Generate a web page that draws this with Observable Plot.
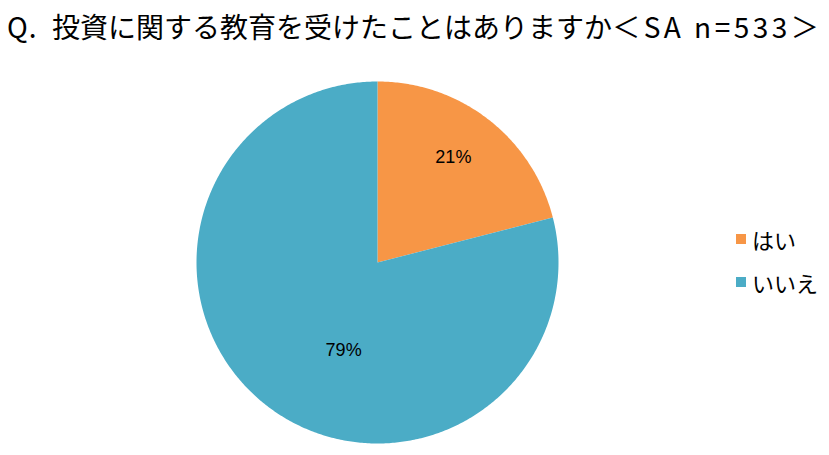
<!DOCTYPE html>
<html>
<head>
<meta charset="utf-8">
<script src="https://cdn.jsdelivr.net/npm/d3@7"></script>
<script src="https://cdn.jsdelivr.net/npm/@observablehq/plot@0.6"></script>
<style>
  html, body { margin: 0; padding: 0; background: #fff; }
  #wrap { position: relative; width: 829px; height: 455px; overflow: hidden; }
  #title {
    position: absolute; left: 7px; top: 8px; white-space: nowrap;
    font-family: "Noto Sans CJK JP", sans-serif; font-size: 28px; line-height: 36px; color: #000;
  }
  #title .q { letter-spacing: 1px; }
  #title .n { letter-spacing: 3.5px; }
  #chart { position: absolute; left: 0; top: 50px; }
  #legend {
    position: absolute; left: 736px; top: 217px;
    font-family: "Noto Sans CJK JP", sans-serif; font-size: 22px; color: #000;
  }
  .item { display: flex; align-items: center; height: 43px; }
  .sw { width: 10px; height: 10px; margin-right: 6px; }
</style>
</head>
<body>
<div id="wrap">
  <div id="title"><span class="q">Q.&nbsp;&nbsp;</span>投資に関する教育を受けたことはありますか<span class="n">＜SA n=533＞</span></div>
  <div id="chart"></div>
  <div id="legend"></div>
</div>
<script>
// Answers and their shares (%)
const answers = ["はい", "いいえ"];
const shares = [21, 79];
const colors = ["#F79646", "#4BACC6"];

const data = answers.map((a, i) => ({answer: a, value: shares[i], color: colors[i]}));

// Slice angles, clockwise from 12 o'clock
const arcs = d3.pie().value(d => d.value).sort(null)(data);

// Outline points of every slice, in a unit circle
const outline = [];
arcs.forEach(a => {
  const n = Math.max(2, Math.ceil((a.endAngle - a.startAngle) / 0.01));
  outline.push({answer: a.data.answer, x: 0, y: 0});
  for (let k = 0; k <= n; k++) {
    const t = a.startAngle + (a.endAngle - a.startAngle) * k / n;
    outline.push({answer: a.data.answer, x: Math.sin(t), y: Math.cos(t)});
  }
  outline.push({answer: a.data.answer, x: 0, y: 0});
});

// Label anchors at each slice's mid angle
const labels = arcs.map(a => {
  const m = (a.startAngle + a.endAngle) / 2;
  return {answer: a.data.answer, text: a.data.value + "%", x: 0.72 * Math.sin(m), y: 0.72 * Math.cos(m)};
});

const chart = Plot.plot({
  width: 829,
  height: 405,
  margin: 0,
  x: {domain: [-1, 1], range: [196, 558], axis: null},
  y: {domain: [-1, 1], range: [393, 31], axis: null},
  color: {domain: answers, range: colors},
  marks: [
    Plot.line(outline, {x: "x", y: "y", z: "answer", fill: "answer", stroke: null, curve: "linear"}),
    Plot.text(labels.filter(d => d.answer === "はい"), {x: "x", y: "y", text: "text", fontSize: 18, fill: "#000", fontFamily: "Liberation Sans, sans-serif", dx: -4, dy: -2}),
    Plot.text(labels.filter(d => d.answer === "いいえ"), {x: "x", y: "y", text: "text", fontSize: 18, fill: "#000", fontFamily: "Liberation Sans, sans-serif", dx: 46, dy: -15})
  ]
});
document.getElementById("chart").appendChild(chart);

// Legend
const legend = document.getElementById("legend");
data.forEach(d => {
  const item = document.createElement("div");
  item.className = "item";
  const sw = document.createElement("div");
  sw.className = "sw";
  sw.style.background = d.color;
  const label = document.createElement("span");
  label.textContent = d.answer;
  item.appendChild(sw);
  item.appendChild(label);
  legend.appendChild(item);
});
</script>
</body>
</html>
